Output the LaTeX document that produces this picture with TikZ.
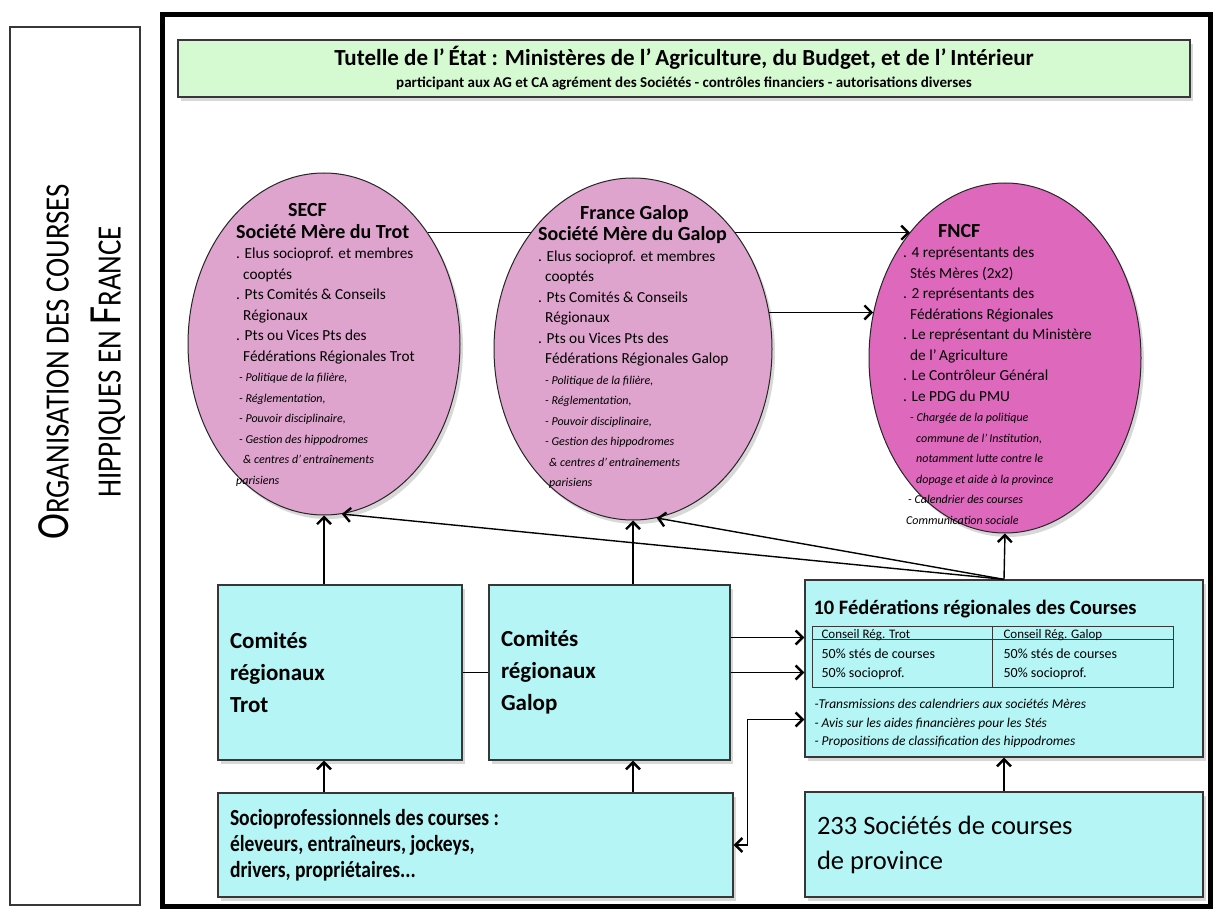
\documentclass[tikz,border=0pt]{standalone}
\usepackage{fontspec}
\setmainfont{Carlito}
\newfontfamily\condfont{Carlito}[FakeStretch=0.85]
\usetikzlibrary{shapes.geometric,shadows,arrows.meta,backgrounds,positioning}
\definecolor{tutellegreen}{RGB}{213,250,210}
\definecolor{merepink}{RGB}{222,164,205}
\definecolor{fncfpink}{RGB}{222,104,188}
\definecolor{boxcyan}{RGB}{181,245,246}
\definecolor{edgegray}{RGB}{55,55,55}
\newcommand\itl[1]{{\itshape\fontsize{12}{20.5}\selectfont #1}}
\tikzset{%
  shadowed/.style={drop shadow={shadow xshift=3pt,shadow yshift=-4pt,opacity=0.3}},
  tutellebox/.style={draw=edgegray,line width=1.3pt,fill=tutellegreen,shadowed,align=center},
  mereell/.style={ellipse,draw=black!85,line width=1pt,fill=merepink,shadowed,inner sep=0pt},
  fncfell/.style={mereell,fill=fncfpink},
  cyanbox/.style={draw=edgegray,line width=1.3pt,fill=boxcyan,shadowed,inner sep=0pt,align=flush left},
  elltxt/.style={align=left,inner sep=0pt,font=\fontsize{15.3}{20.5}\selectfont},
  headtxt/.style={font=\bfseries\fontsize{20}{22}\selectfont},
  conn/.style={line width=1.4pt,->},
  link/.style={line width=1.4pt}
}

\begin{document}
\begin{tikzpicture}[x=1pt,y=-1pt,>={Straight Barb[length=7pt,width=14pt,line width=2.4pt]}]
  \useasboundingbox (0,0) rectangle (1219,912);

  % title frame on the left
  \draw[edgegray,line width=1.2pt] (10,27) rectangle (140,905);
  \node[rotate=90,align=center,font=\condfont\fontsize{34}{52}\selectfont] (titre) at (82,362)
    {{\fontsize{46}{52}\selectfont O}RGANISATION DES COURSES\\
     HIPPIQUES EN {\fontsize{46}{52}\selectfont F}RANCE};

  % main frame
  \draw[line width=5pt] (162,15) rectangle (1210,906);

  % tutelle
  \node[tutellebox,minimum width=1012pt,minimum height=57pt,font=\fontsize{14}{22}\selectfont] (tutelle) at (684,68.5)
    {{\bfseries\fontsize{23}{22}\selectfont Tutelle de l’\,État : Ministères de l’\,Agriculture, du Budget, et de l’\,Intérieur}\\
     {\bfseries\fontsize{15}{14}\selectfont participant aux AG et CA agrément des Sociétés - contrôles financiers - autorisations diverses}};

  % societes meres and FNCF
  \node[mereell,minimum width=272pt,minimum height=342pt] (secf) at (324,344) {};
  \node[mereell,minimum width=278pt,minimum height=342pt] (galop) at (633,349) {};
  \node[fncfell,minimum width=272pt,minimum height=350pt] (fncf) at (1005,358) {};

  \node[elltxt,anchor=west] (secftxt) at ([xshift=-88pt,yshift=-1pt]secf.center) {%
    \hspace*{52pt}{\bfseries\fontsize{20}{22}\selectfont SECF}\\[1pt]
    {\bfseries\fontsize{20}{22}\selectfont Société Mère du Trot}\\
    . Elus socioprof. et membres\\
    \hspace*{7pt}cooptés\\
    . Pts Comités \& Conseils\\
    \hspace*{7pt}Régionaux\\
    . Pts ou Vices Pts des\\
    \hspace*{7pt}Fédérations Régionales Trot\\
    \itl{\hspace*{3pt}- Politique de la filière,}\\
    \itl{\hspace*{3pt}- Réglementation,}\\
    \itl{\hspace*{3pt}- Pouvoir disciplinaire,}\\
    \itl{\hspace*{3pt}- Gestion des hippodromes}\\
    \itl{\hspace*{7pt}\& centres d’\,entraînements}\\
    \itl{parisiens}};

  \node[elltxt,anchor=west] (galoptxt) at ([xshift=-95pt,yshift=2pt]galop.center) {%
    \hspace*{42pt}{\bfseries\fontsize{20}{22}\selectfont France Galop}\\[1pt]
    {\bfseries\fontsize{20}{22}\selectfont Société Mère du Galop}\\
    . Elus socioprof. et membres\\
    \hspace*{7pt}cooptés\\
    . Pts Comités \& Conseils\\
    \hspace*{7pt}Régionaux\\
    . Pts ou Vices Pts des\\
    \hspace*{7pt}Fédérations Régionales Galop\\
    \itl{\hspace*{7pt}- Politique de la filière,}\\
    \itl{\hspace*{7pt}- Réglementation,}\\
    \itl{\hspace*{7pt}- Pouvoir disciplinaire,}\\
    \itl{\hspace*{7pt}- Gestion des hippodromes}\\
    \itl{\hspace*{11pt}\& centres d’\,entraînements}\\
    \itl{\hspace*{11pt}parisiens}};

  \node[elltxt,anchor=west] (fncftxt) at ([xshift=-102pt,yshift=-16pt]fncf.center) {%
    \hspace*{35pt}{\bfseries\fontsize{20}{22}\selectfont FNCF}\\
    . 4 représentants des\\
    \hspace*{7pt}Stés Mères (2x2)\\
    . 2 représentants des\\
    \hspace*{7pt}Fédérations Régionales\\
    . Le représentant du Ministère\\
    \hspace*{7pt}de l’\,Agriculture\\
    . Le Contrôleur Général\\
    . Le PDG du PMU\\
    \itl{\hspace*{7pt}- Chargée de la politique}\\
    \itl{\hspace*{13pt}commune de l’\,Institution,}\\
    \itl{\hspace*{13pt}notamment lutte contre le}\\
    \itl{\hspace*{13pt}dopage et aide à la province}\\
    \itl{\hspace*{5pt}- Calendrier des courses}\\
    \itl{\hspace*{3pt}Communication sociale}};

  % regional boxes
  \node[cyanbox,minimum width=244pt,minimum height=175pt,text width=220pt,
        font=\bfseries\fontsize{23}{32}\selectfont] (trot) at (340,672.5) {Comités\\régionaux\\Trot};
  \node[cyanbox,minimum width=241pt,minimum height=175pt,text width=217pt,
        font=\bfseries\fontsize{23}{32}\selectfont] (galopc) at (609.5,672.5) {Comités\\régionaux\\Galop};
  \node[cyanbox,minimum width=398pt,minimum height=177pt] (fed) at (1004,668.5) {};
  \node[cyanbox,minimum width=515pt,minimum height=104pt,text width=491pt,
        font=\condfont\bfseries\fontsize{23}{26}\selectfont] (socio) at (475.5,845)
    {Socioprofessionnels des courses :\\éleveurs, entraîneurs, jockeys,\\drivers, propriétaires...};
  \node[cyanbox,minimum width=398pt,minimum height=105pt,text width=374pt,
        font=\fontsize{26.5}{35}\selectfont] (soc233) at (1004,844.5)
    {233 Sociétés de courses\\de province};

  % inside the federations box
  \node[anchor=west,inner sep=0pt,font=\bfseries\fontsize{20.5}{22}\selectfont] (fedtitle)
    at ([xshift=9pt,yshift=-30pt]fed.north west) {10 Fédérations régionales des Courses};
  \coordinate (tabnw) at ([xshift=8pt,yshift=-47pt]fed.north west);
  \coordinate (tabse) at ([xshift=-30pt,yshift=-108pt]fed.north east);
  \draw[line width=1.1pt,edgegray] (tabnw) rectangle (tabse);
  \draw[line width=1.1pt,edgegray] ([yshift=-13pt]tabnw) -- ([yshift=-13pt]tabnw -| tabse);
  \draw[line width=1.1pt,edgegray] ([xshift=180pt]tabnw) -- ([xshift=180pt]tabnw |- tabse);
  \node[anchor=base west,inner sep=0pt,font=\fontsize{13}{15}\selectfont] (trothead)
    at ([xshift=9pt,yshift=-12pt]tabnw) {Conseil Rég. Trot};
  \node[anchor=base west,inner sep=0pt,font=\fontsize{13}{15}\selectfont] (galophead)
    at ([xshift=191pt,yshift=-12pt]tabnw) {Conseil Rég. Galop};
  \node[anchor=north west,inner sep=0pt,align=left,font=\fontsize{14}{19}\selectfont] (trotrow)
    at ([xshift=9pt,yshift=-22pt]tabnw) {50\% stés de courses\\50\% socioprof.};
  \node[anchor=north west,inner sep=0pt,align=left,font=\fontsize{14}{19}\selectfont] (galoprow)
    at ([xshift=191pt,yshift=-22pt]tabnw) {50\% stés de courses\\50\% socioprof.};
  \node[anchor=north west,inner sep=0pt,align=left,font=\itshape\fontsize{13.5}{18.5}\selectfont] (fedtasks)
    at ([xshift=2pt,yshift=-73pt]tabnw)
    {-Transmissions des calendriers aux sociétés Mères\\
     - Avis sur les aides financières pour les Stés\\
     - Propositions de classification des hippodromes};

  % connectors
  \begin{scope}[on background layer]
    \fill[white] (0,0) rectangle (1219,912);
    \draw[conn] (secf.47) -- (secf.47 -| fncf.127);
  \end{scope}
  \draw[conn] (galop.15) -- (galop.15 -| fncf.161);
  \draw[conn] (secf.south |- trot.north) -- (secf.south);
  \draw[conn] (galop.south |- galopc.north) -- (galop.south);
  \draw[conn] (fed.north) -- (fncf.south);
  \draw[conn] (fed.north) -- (secf.-84);
  \draw[conn] (fed.north) -- (galop.-82);
  \draw[conn] (secf.south |- socio.north) -- (secf.south |- trot.south);
  \draw[conn] (galop.south |- socio.north) -- (galop.south |- galopc.south);
  \draw[conn] (soc233.north) -- (fed.south);
  \draw[link] (trot.east) -- (galopc.west);
  \draw[conn] ([yshift=35pt]galopc.east) -- ([yshift=35pt]galopc.east -| fed.west);
  \draw[conn] (galopc.east) -- (galopc.east -| fed.west);
  \draw[conn,<->] (socio.east) -- ++(14,0) |- ([yshift=-51pt]fed.west);
\end{tikzpicture}
\end{document}
